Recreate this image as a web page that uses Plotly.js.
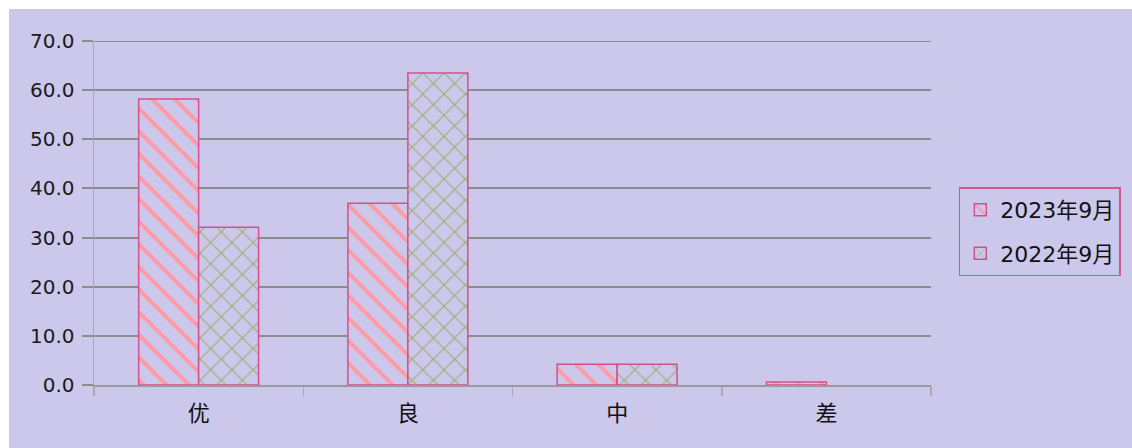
<!DOCTYPE html>
<html>
<head>
<meta charset="utf-8">
<script src="https://cdn.plot.ly/plotly-3.0.1.min.js"></script>
<style>
html,body{margin:0;padding:0;background:#ffffff;}
#bg{position:absolute;left:9px;top:9px;width:1123px;height:439px;background:#CCC8EC;border-left:1px solid #F2B8D8;box-sizing:border-box;}
#chart{position:absolute;left:0;top:0;width:1132px;height:448px;}
</style>
</head>
<body>
<div id="bg"></div>
<div id="chart"></div>
<script>
var categories = ['优', '良', '中', '差'];
var seriesNames = ['2023年9月', '2022年9月'];
var values2023 = [58.2, 37.0, 4.2, 0.6];
var values2022 = [32.1, 63.5, 4.2, 0];
var yTickVals = [0, 10, 20, 30, 40, 50, 60, 70];
var yTickText = ['0.0', '10.0', '20.0', '30.0', '40.0', '50.0', '60.0', '70.0'];
var yMax = yTickVals[yTickVals.length - 1];

var traces = [
  {
    type: 'bar', name: seriesNames[0], x: categories, y: values2023,
    legendgroup: 'a',
    marker: {
      color: '#CCC8EC',
      line: {color: '#D2508C', width: 1.5},
      pattern: {shape: '\\', fgcolor: '#FF9AA6', bgcolor: '#CCC8EC', size: 16, solidity: 0.25, fillmode: 'replace'}
    },
    hoverinfo: 'none'
  },
  {
    type: 'bar', name: seriesNames[1], x: categories, y: values2022,
    legendgroup: 'b',
    marker: {
      color: '#CCC8EC',
      line: {color: '#D2508C', width: [1.5, 1.5, 1.5, 0]},
      pattern: {shape: 'x', fgcolor: '#9EAE6E', bgcolor: '#CCC8EC', size: 15, solidity: 0.15, fillmode: 'replace'}
    },
    hoverinfo: 'none'
  }
];

var layout = {
  width: 1132, height: 448,
  margin: {l: 94, r: 200, t: 41, b: 63},
  paper_bgcolor: 'rgba(0,0,0,0)',
  plot_bgcolor: 'rgba(0,0,0,0)',
  barmode: 'group',
  bargap: 0.427,
  bargroupgap: 0,
  showlegend: true,
  font: {family: 'DejaVu Sans, Noto Sans CJK SC, sans-serif', color: '#222222'},
  xaxis: {
    type: 'category',
    tickson: 'boundaries',
    ticks: 'outside', ticklen: 9, tickcolor: '#B8A0B8', tickwidth: 1.5,
    showline: true, linecolor: '#999999', linewidth: 2,
    showgrid: false,
    tickfont: {size: 22, family: 'Noto Sans CJK SC, sans-serif', color: '#111111'},
    ticklabelstandoff: 8
  },
  yaxis: {
    range: [0, yMax],
    tickvals: yTickVals, ticktext: yTickText,
    ticks: 'outside', ticklen: 11, tickcolor: '#8C8C8C', tickwidth: 2,
    showline: true, linecolor: '#9EAAC4', linewidth: 1.5,
    showgrid: true, gridcolor: '#8C8C8C', gridwidth: 2,
    zeroline: false,
    tickfont: {size: 20, family: 'DejaVu Sans, sans-serif', color: '#1a1a1a'},
    ticklabelstandoff: 3
  },
  shapes: [
    {type: 'line', xref: 'paper', yref: 'y', x0: 0, x1: 1, y0: yMax, y1: yMax,
     line: {color: '#8C8C8C', width: 2}, layer: 'below'}
  ],
  legend: {
    x: 1.032, xanchor: 'left', y: 0.445, yanchor: 'middle',
    bgcolor: 'rgba(0,0,0,0)', bordercolor: '#CC5B94', borderwidth: 1.5,
    font: {size: 22, family: 'DejaVu Sans, Noto Sans CJK SC, sans-serif', color: '#111111'},
    tracegroupgap: 12,
    itemwidth: 30
  }
};

Plotly.newPlot('chart', traces, layout, {staticPlot: true});
</script>
</body>
</html>
